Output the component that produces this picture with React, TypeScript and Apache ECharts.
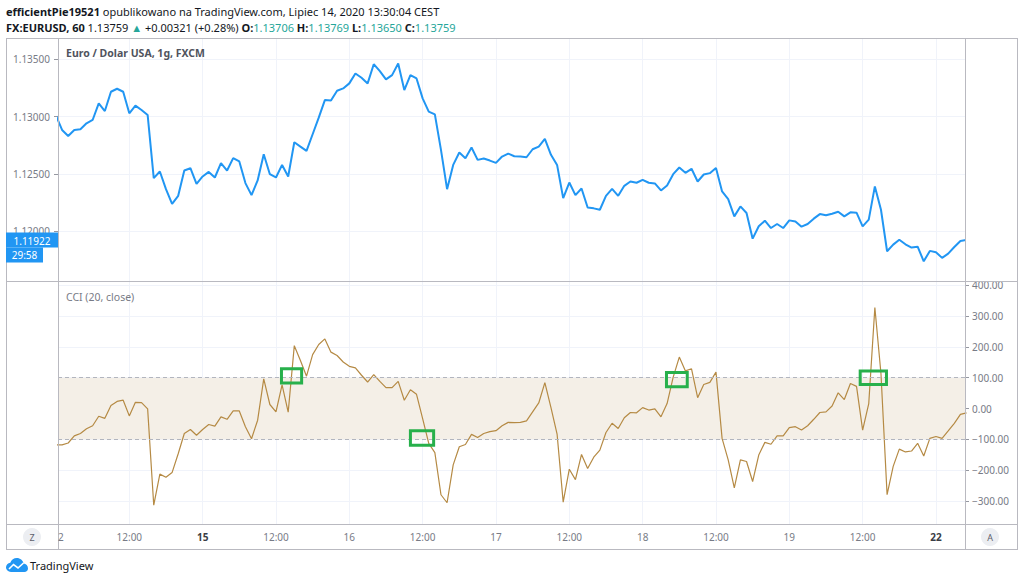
import React, { useEffect, useRef } from 'react';
import * as echarts from 'echarts';

// Hourly EUR/USD closes (bar index 0..149)
const priceValues = [
  1.1301, 1.12884, 1.12831, 1.12884, 1.1289, 1.12942, 1.12971, 1.13116, 1.13049, 1.13218,
  1.13244, 1.13218, 1.13029, 1.13096, 1.13058, 1.13015, 1.12462, 1.1252, 1.12366, 1.12238,
  1.12308, 1.12529, 1.12549, 1.12413, 1.12477, 1.12517, 1.12468, 1.12593, 1.12529, 1.12637,
  1.12608, 1.12419, 1.12314, 1.12442, 1.12671, 1.12497, 1.12468, 1.12578, 1.12477, 1.12776,
  1.12738, 1.12701, 1.12846, 1.12991, 1.13145, 1.13142, 1.13227, 1.13247, 1.13291, 1.13378,
  1.1334, 1.13291, 1.13459, 1.13398, 1.13326, 1.13363, 1.13465, 1.13233, 1.13363, 1.13334,
  1.1316, 1.13044, 1.1302, 1.12709, 1.12366, 1.12578, 1.12686, 1.12637, 1.1273, 1.12622,
  1.12634, 1.12616, 1.12596, 1.12651, 1.12677, 1.12654, 1.12651, 1.12645, 1.12715, 1.12738,
  1.12805, 1.12666, 1.12578, 1.12288, 1.12424, 1.12314, 1.12372, 1.12206, 1.12198, 1.12186,
  1.12308, 1.12369, 1.12308, 1.12395, 1.12433, 1.12422, 1.12448, 1.12422, 1.12416, 1.12355,
  1.12398, 1.12497, 1.12555, 1.12509, 1.12544, 1.12433, 1.12494, 1.12506, 1.12552, 1.12346,
  1.12279, 1.12128, 1.12215, 1.12157, 1.11933, 1.12041, 1.1209, 1.12026, 1.12061, 1.12026,
  1.12093, 1.12084, 1.12038, 1.12061, 1.12108, 1.12148, 1.12137, 1.12151, 1.12169, 1.12128,
  1.12163, 1.1216, 1.12041, 1.12099, 1.1239, 1.12186, 1.11823, 1.11881, 1.11924, 1.11884,
  1.11855, 1.11863, 1.11735, 1.11826, 1.11814, 1.11765, 1.11802, 1.1186, 1.11913, 1.11922,
];

// CCI (20, close) values for the same bars
const cciValues = [
  -118, -118, -112, -89, -81, -66, -56, -25, -32, 10,
  23, 27, -24, 20, 19, -1, -314, -213, -223, -208,
  -147, -81, -68, -87, -68, -52, -57, -27, -35, -8,
  -8, -59, -98, -38, 96, 13, -11, 77, -12, 204,
  156, 105, 175, 208, 226, 183, 172, 151, 137, 132,
  108, 86, 110, 88, 68, 68, 88, 27, 61, 46,
  -33, -113, -143, -280, -306, -183, -124, -117, -84, -94,
  -81, -75, -72, -56, -45, -46, -45, -40, -11, 18,
  84, 3, -83, -304, -197, -231, -149, -195, -158, -135,
  -78, -48, -65, -30, -13, -14, 3, -5, -1, -27,
  16, 102, 167, 122, 129, 35, 78, 85, 118, -97,
  -167, -258, -167, -172, -237, -151, -110, -116, -89, -89,
  -62, -59, -70, -56, -35, -13, -11, 8, 51, 29,
  81, 72, -70, 16, 328, 113, -280, -188, -132, -141,
  -138, -113, -154, -97, -91, -97, -73, -48, -19, -14,
];

const timeTickPositions = [12, 24, 36, 48, 60, 72, 84, 96, 108, 120, 132, 144];
const timeTickLabels = ['12:00', '15', '12:00', '16', '12:00', '17', '12:00', '18', '12:00', '19', '12:00', '22'];
const boldTimeLabels = ['15', '22'];
const priceTicks = [1.12, 1.125, 1.13, 1.135];
const cciTicks = [-300, -200, -100, 0, 100, 200, 300, 400];
const cciBand = [-100, 100];
// [barStart, barEnd, cciLow, cciHigh]
const highlightBoxes = [
  [36.9, 40.2, 83, 129],
  [58.0, 61.8, -119, -72],
  [99.9, 103.3, 71, 117],
  [131.6, 135.9, 78, 122],
];
const lastPrice = 1.11922;
const countdownText = '29:58';

const FONT = 'Noto Sans';
const FRAME = '#b9b9c0';
const GRIDC = '#f0f3fa';
const AXIS_TXT = '#787b86';

const logoPath =
  'M5 14C2.2 14 0 11.8 0 9.3C0 6.9 1.9 4.9 4.3 4.7C5.3 2 7.8 0 10.8 0C14.2 0 17 2.4 17.6 5.6C20.1 5.9 22 8 22 10.4C22 12.4 20.4 14 18.4 14Z';
let logoRegistered = false;

export default function App() {
  const ref = useRef<HTMLDivElement>(null);

  useEffect(() => {
    if (!ref.current) return;
    if (!logoRegistered) {
      echarts.graphic.registerShape('tvlogo', echarts.graphic.extendPath(logoPath, {}) as any);
      logoRegistered = true;
    }
    const chart = echarts.init(ref.current, undefined, { renderer: 'svg' });

    const X_MIN = 0.333;
    const X_MAX = 148.75;
    const P_MIN = 1.115627;
    const P_MAX = 1.13688;
    const C_MIN = -375;
    const C_MAX = 414;

    const priceData = priceValues.map((v, i) => [i, v]);
    const cciData = cciValues.map((v, i) => [i, v]);

    const xLabelFormatter = (v: number) => {
      const idx = timeTickPositions.indexOf(Math.round(v));
      if (idx < 0) return '';
      const s = timeTickLabels[idx];
      return boldTimeLabels.includes(s) ? `{b|${s}}` : s;
    };
    const cciFormatter = (v: number) => (v < 0 ? '\u2212' : '') + Math.abs(v).toFixed(2);

    const option: any = {
      animation: false,
      backgroundColor: '#ffffff',
      textStyle: { fontFamily: FONT },
      grid: [
        { left: 58, top: 38, width: 907, height: 243 },
        { left: 58, top: 281, width: 907, height: 243 },
      ],
      xAxis: [
        {
          type: 'value', gridIndex: 0, min: X_MIN, max: X_MAX,
          axisLine: { show: false },
          axisTick: { show: false, customValues: timeTickPositions },
          axisLabel: { show: false, customValues: timeTickPositions },
          splitLine: { show: true, lineStyle: { color: GRIDC, width: 1 } },
        },
        {
          type: 'value', gridIndex: 1, min: X_MIN, max: X_MAX,
          axisLine: { show: false },
          axisTick: { show: true, customValues: timeTickPositions, length: 4, inside: false, lineStyle: { color: FRAME } },
          axisLabel: {
            show: true, customValues: timeTickPositions, formatter: xLabelFormatter,
            color: AXIS_TXT, fontSize: 10, fontFamily: FONT, margin: 8,
            rich: { b: { fontWeight: 'bold', color: '#3a3d45', fontSize: 10, fontFamily: FONT } },
          },
          splitLine: { show: true, lineStyle: { color: GRIDC, width: 1 } },
        },
      ],
      yAxis: [
        {
          type: 'value', gridIndex: 0, position: 'left', min: P_MIN, max: P_MAX,
          axisLine: { show: false },
          axisTick: { show: true, customValues: priceTicks, length: 4, lineStyle: { color: '#9598a1' } },
          axisLabel: {
            customValues: priceTicks, formatter: (v: number) => v.toFixed(5),
            color: AXIS_TXT, fontSize: 10, lineHeight: 10, fontFamily: FONT, margin: 8,
          },
          splitLine: { show: true, lineStyle: { color: GRIDC, width: 1 } },
        },
        {
          type: 'value', gridIndex: 1, position: 'right', min: C_MIN, max: C_MAX,
          axisLine: { show: false },
          axisTick: { show: true, customValues: cciTicks, length: 4, lineStyle: { color: '#9598a1' } },
          axisLabel: {
            customValues: cciTicks, formatter: cciFormatter,
            color: AXIS_TXT, fontSize: 10, fontFamily: FONT, margin: 7,
          },
          splitLine: { show: true, lineStyle: { color: GRIDC, width: 1 } },
        },
      ],
      series: [
        {
          name: 'EURUSD', type: 'line', xAxisIndex: 0, yAxisIndex: 0,
          data: priceData, symbol: 'none', clip: true,
          lineStyle: { color: '#2196f3', width: 2 }, z: 3,
        },
        {
          name: 'CCI', type: 'line', xAxisIndex: 1, yAxisIndex: 1,
          data: cciData, symbol: 'none', clip: true,
          lineStyle: { color: '#b58a44', width: 1.2 }, z: 3,
          markArea: {
            silent: true,
            itemStyle: { color: '#f4efe7' },
            data: [[{ yAxis: cciBand[0] }, { yAxis: cciBand[1] }]],
          },
          markLine: {
            silent: true, symbol: 'none', label: { show: false },
            lineStyle: { color: '#b2b5be', type: [4, 3], width: 1 },
            data: cciBand.map((v) => ({ yAxis: v })),
          },
        },
        {
          name: 'highlights', type: 'custom', xAxisIndex: 1, yAxisIndex: 1,
          data: highlightBoxes, encode: { x: [0, 1], y: [2, 3] }, silent: true, z: 5,
          renderItem: (_p: any, api: any) => {
            const a = api.coord([api.value(0), api.value(3)]);
            const b = api.coord([api.value(1), api.value(2)]);
            return {
              type: 'rect',
              shape: { x: a[0], y: a[1], width: b[0] - a[0], height: b[1] - a[1] },
              style: { fill: 'none', stroke: '#27b04b', lineWidth: 3 },
            };
          },
        },
      ],
    };
    chart.setOption(option);

    const yLast = chart.convertToPixel({ yAxisIndex: 0 }, lastPrice) as number;

    const txt = (x: number, y: number, text: string, extra: any = {}) => ({
      type: 'text', x, y, z: 20,
      style: {
        text, fill: extra.fill || '#131722', fontSize: extra.fontSize || 10,
        fontFamily: FONT, fontWeight: extra.fontWeight || 'normal',
        align: extra.align || 'left', verticalAlign: 'middle',
        textAlign: extra.align || 'left', textVerticalAlign: 'middle',
        ...(extra.lineHeight ? { lineHeight: extra.lineHeight } : {}),
        ...(extra.rich ? { rich: extra.rich } : {}),
      },
    });
    const ln = (x1: number, y1: number, x2: number, y2: number, color = FRAME) => ({
      type: 'line', z: 15, shape: { x1, y1, x2, y2 }, style: { stroke: color, lineWidth: 1 },
    });

    const headerRich = {
      b: { fontWeight: 'bold', fill: '#131722', color: '#131722', fontSize: 11, fontFamily: FONT },
      g: { fill: '#26a69a', color: '#26a69a', fontSize: 11, fontFamily: FONT },
    };

    const graphic: any[] = [
      // header
      txt(6, 11, '{b|efficientPie19521} opublikowano na TradingView.com, Lipiec 14, 2020 13:30:04 CEST', { fontSize: 11, rich: headerRich }),
      txt(6, 27, '{b|FX:EURUSD, 60} 1.13759 {g|\u25B2} +0.00321 (+0.28%) {b|O:}{g|1.13706} {b|H:}{g|1.13769} {b|L:}{g|1.13650} {b|C:}{g|1.13759}', { fontSize: 11, rich: headerRich }),
      // frame
      ln(6, 38.5, 1018, 38.5),
      ln(6, 549.5, 1018, 549.5),
      ln(6.5, 38, 6.5, 550),
      ln(1017.5, 38, 1017.5, 550),
      ln(58.5, 38, 58.5, 550),
      ln(965.5, 38, 965.5, 550),
      ln(6, 281.5, 1018, 281.5),
      ln(6, 524.5, 1018, 524.5),
      // pane titles
      txt(66, 53, 'Euro / Dolar USA, 1g, FXCM', { fontWeight: 'bold', fill: '#50535e', fontSize: 10.5 }),
      txt(66, 297, 'CCI (20, close)', { fill: '#787b86', fontSize: 10.5 }),
      // clipped first time label
      txt(58, 537, '2', { fill: AXIS_TXT }),
      // last price marker
      { type: 'rect', z: 18, shape: { x: 6, y: yLast - 7.5, width: 52, height: 15 }, style: { fill: '#2196f3' } },
      txt(32, yLast + 1, lastPrice.toFixed(5), { fill: '#ffffff', align: 'center', lineHeight: 10 }),
      ln(54, yLast + 0.5, 58, yLast + 0.5, '#ffffff'),
      { type: 'rect', z: 18, shape: { x: 6, y: yLast + 7.5, width: 37, height: 15 }, style: { fill: '#2196f3' } },
      txt(24.5, yLast + 15, countdownText, { fill: '#ffffff', align: 'center', lineHeight: 10 }),
      // Z / A buttons
      { type: 'circle', z: 16, shape: { cx: 32, cy: 537, r: 9 }, style: { fill: '#eceef2' } },
      txt(32, 537, 'Z', { fill: '#5d606b', align: 'center', fontSize: 9 }),
      { type: 'circle', z: 16, shape: { cx: 990, cy: 537, r: 9 }, style: { fill: '#eceef2' } },
      txt(990, 537, 'A', { fill: '#5d606b', align: 'center', fontSize: 9 }),
      // TradingView logo
      { type: 'tvlogo', z: 16, x: 6, y: 558, scaleX: 1, scaleY: 1, style: { fill: '#2196f3' } },
      { type: 'polyline', z: 17, shape: { points: [[9, 569], [13.5, 564.5], [18, 568], [23.5, 563]] }, style: { stroke: '#ffffff', lineWidth: 1.6, fill: 'none' } },
      txt(30, 565, 'TradingView', { fontSize: 11, fill: '#131722' }),
    ];
    chart.setOption({ graphic });

    return () => chart.dispose();
  }, []);

  return (
    <div
      ref={ref}
      style={{ position: 'absolute', left: 0, top: 0, width: 1024, height: 582, background: '#ffffff' }}
    />
  );
}
